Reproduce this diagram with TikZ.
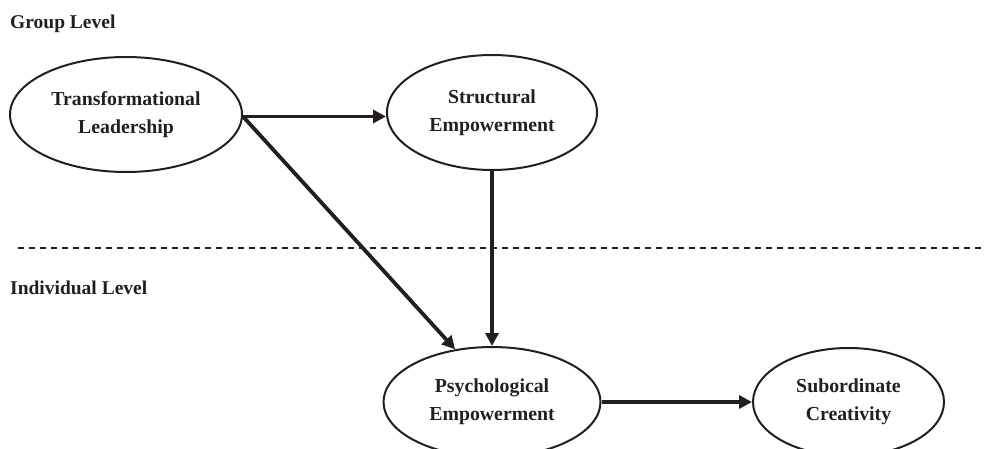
\documentclass[tikz,border=0pt]{standalone}
\usepackage{fontspec}
\setmainfont{Liberation Serif}
\usetikzlibrary{arrows.meta,shapes.geometric}
\definecolor{ink}{HTML}{231F20}
\begin{document}
\begin{tikzpicture}[x=1pt,y=-1pt,
  construct/.style={draw=ink,line width=2pt,ellipse,inner sep=0pt,align=center,
    font=\bfseries\fontsize{19.8}{28}\selectfont,text=ink},
  lvl/.style={anchor=base west,inner sep=0pt,font=\bfseries\fontsize{19.5}{24}\selectfont,text=ink},
  path/.style={draw=ink,line width=3.8pt,-{Triangle[length=13pt,width=13pt]}},
  divider/.style={draw=ink,line width=1.2pt,dash pattern=on 6pt off 5pt}]
\useasboundingbox (0,0) rectangle (985,449);
\clip (0,0) rectangle (985,449);
\node[lvl] (gl) at (10,29) {Group Level};
\node[lvl] (il) at (10,294) {Individual Level};
\coordinate (d1) at (18,248);
\coordinate (d2) at (982,248);
\draw[divider] (d1) -- (d2);
\node[construct,minimum width=232pt,minimum height=115pt] (tl) at (126,114.5) {Transformational\\Leadership};
\node[construct,minimum width=210pt,minimum height=115pt] (se) at (492,112.5) {Structural\\Empowerment};
\node[construct,minimum width=217pt,minimum height=110pt] (pe) at (492,402) {Psychological\\Empowerment};
\node[construct,minimum width=191pt,minimum height=108pt] (sc) at (848.5,402) {Subordinate\\Creativity};
\coordinate (tlout) at ([yshift=-2pt]tl.east);
\draw[path] (tlout) -- (se.west |- tlout);
\draw[path] (tlout) -- (pe.125);
\draw[path] (se.south) -- (pe.north);
\draw[path] (pe.east) -- (sc.west);
\end{tikzpicture}
\end{document}
